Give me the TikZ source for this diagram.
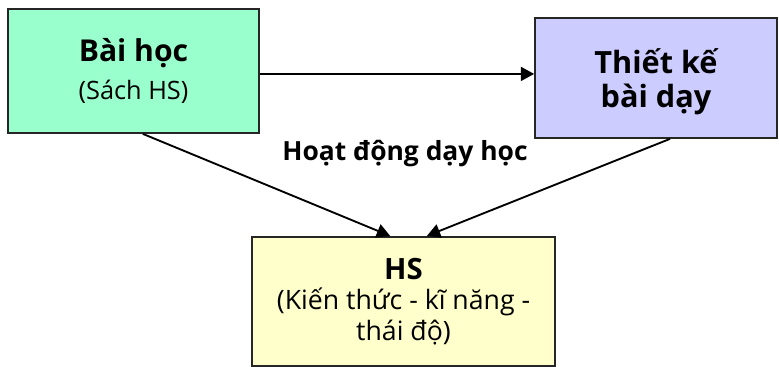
\documentclass[tikz,border=0pt]{standalone}
\usepackage{fontspec}
\setmainfont{Open Sans}
\usepackage{tikz}
\usetikzlibrary{arrows.meta,positioning}
\definecolor{lessonGreen}{HTML}{99FFCC}
\definecolor{planLilac}{HTML}{CCCCFF}
\definecolor{pupilYellow}{HTML}{FFFFCC}

\tikzset{
  box/.style={draw=black!85,line width=1.3pt,align=center,inner sep=0pt},
  flow/.style={-{Triangle[length=10pt,width=10.5pt]},line width=1.4pt}
}

\begin{document}
\begin{tikzpicture}[x=0.75pt,y=-0.75pt]
  \useasboundingbox (0,0) rectangle (779,367);
  % three boxes
  \node[box,fill=lessonGreen,minimum width=188pt,minimum height=93pt,
        font=\fontsize{19}{28}\selectfont] (lb) at (133.5,71)
       {{\bfseries\fontsize{22.6}{28}\selectfont Bài học}\\(Sách HS)};
  \node[box,fill=planLilac,minimum width=181.5pt,minimum height=90pt,
        text depth=0pt,font=\bfseries\fontsize{23}{25}\selectfont] (rb) at (656,78)
       {Thiết kế\\bài dạy};
  \node[box,fill=pupilYellow,minimum width=227pt,minimum height=97pt,
        font=\fontsize{20}{23}\selectfont] (hs) at (403.5,301.5)
       {{\bfseries\fontsize{22}{23}\selectfont HS}\\(Kiến thức - kĩ năng -\\thái độ)};
  \node[font=\bfseries\fontsize{19.8}{20}\selectfont] (act) at (405,154) {Hoạt động dạy học};
  % arrows
  \draw[flow] ([yshift=-2.2pt]lb.east) -- ([yshift=-2.2pt]lb.east -| rb.west);
  \draw[flow] ([xshift=7pt]lb.south) -- ([xshift=-10pt]hs.north);
  \draw[flow] ([xshift=10.5pt]rb.south) -- ([xshift=17.5pt]hs.north);
\end{tikzpicture}
\end{document}
